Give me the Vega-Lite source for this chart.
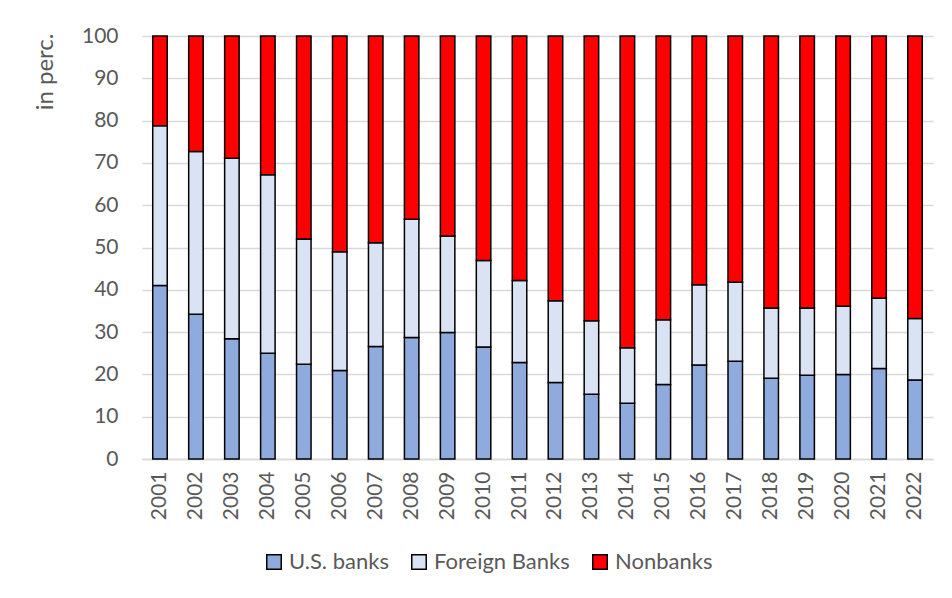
{
  "$schema": "https://vega.github.io/schema/vega-lite/v6.json",
  "width": 791,
  "height": 423,
  "autosize": "none",
  "padding": {"left": 142, "top": 36, "right": 19, "bottom": 139},
  "background": "white",
  "config": {
    "view": {"stroke": null},
    "font": "Lato",
    "axis": {"labelFont": "Lato", "titleFont": "Lato", "labelColor": "#595959", "titleColor": "#595959", "labelFontSize": 21, "titleFontSize": 24, "titleFontWeight": "normal"},
    "legend": {"labelFont": "Lato", "labelFontSize": 22, "labelColor": "#595959"}
  },
  "data": {
    "values": [
      {"year": "2001", "cat": "U.S. banks", "value": 41.0}, {"year": "2001", "cat": "Foreign Banks", "value": 37.8}, {"year": "2001", "cat": "Nonbanks", "value": 21.2},
      {"year": "2002", "cat": "U.S. banks", "value": 34.2}, {"year": "2002", "cat": "Foreign Banks", "value": 38.5}, {"year": "2002", "cat": "Nonbanks", "value": 27.3},
      {"year": "2003", "cat": "U.S. banks", "value": 28.4}, {"year": "2003", "cat": "Foreign Banks", "value": 42.7}, {"year": "2003", "cat": "Nonbanks", "value": 28.9},
      {"year": "2004", "cat": "U.S. banks", "value": 25.0}, {"year": "2004", "cat": "Foreign Banks", "value": 42.2}, {"year": "2004", "cat": "Nonbanks", "value": 32.8},
      {"year": "2005", "cat": "U.S. banks", "value": 22.4}, {"year": "2005", "cat": "Foreign Banks", "value": 29.6}, {"year": "2005", "cat": "Nonbanks", "value": 48.0},
      {"year": "2006", "cat": "U.S. banks", "value": 20.9}, {"year": "2006", "cat": "Foreign Banks", "value": 28.1}, {"year": "2006", "cat": "Nonbanks", "value": 51.0},
      {"year": "2007", "cat": "U.S. banks", "value": 26.6}, {"year": "2007", "cat": "Foreign Banks", "value": 24.5}, {"year": "2007", "cat": "Nonbanks", "value": 48.9},
      {"year": "2008", "cat": "U.S. banks", "value": 28.7}, {"year": "2008", "cat": "Foreign Banks", "value": 28.0}, {"year": "2008", "cat": "Nonbanks", "value": 43.3},
      {"year": "2009", "cat": "U.S. banks", "value": 29.9}, {"year": "2009", "cat": "Foreign Banks", "value": 22.8}, {"year": "2009", "cat": "Nonbanks", "value": 47.3},
      {"year": "2010", "cat": "U.S. banks", "value": 26.5}, {"year": "2010", "cat": "Foreign Banks", "value": 20.4}, {"year": "2010", "cat": "Nonbanks", "value": 53.1},
      {"year": "2011", "cat": "U.S. banks", "value": 22.8}, {"year": "2011", "cat": "Foreign Banks", "value": 19.4}, {"year": "2011", "cat": "Nonbanks", "value": 57.8},
      {"year": "2012", "cat": "U.S. banks", "value": 18.1}, {"year": "2012", "cat": "Foreign Banks", "value": 19.3}, {"year": "2012", "cat": "Nonbanks", "value": 62.6},
      {"year": "2013", "cat": "U.S. banks", "value": 15.3}, {"year": "2013", "cat": "Foreign Banks", "value": 17.4}, {"year": "2013", "cat": "Nonbanks", "value": 67.3},
      {"year": "2014", "cat": "U.S. banks", "value": 13.2}, {"year": "2014", "cat": "Foreign Banks", "value": 13.1}, {"year": "2014", "cat": "Nonbanks", "value": 73.7},
      {"year": "2015", "cat": "U.S. banks", "value": 17.6}, {"year": "2015", "cat": "Foreign Banks", "value": 15.3}, {"year": "2015", "cat": "Nonbanks", "value": 67.1},
      {"year": "2016", "cat": "U.S. banks", "value": 22.2}, {"year": "2016", "cat": "Foreign Banks", "value": 19.0}, {"year": "2016", "cat": "Nonbanks", "value": 58.8},
      {"year": "2017", "cat": "U.S. banks", "value": 23.1}, {"year": "2017", "cat": "Foreign Banks", "value": 18.7}, {"year": "2017", "cat": "Nonbanks", "value": 58.2},
      {"year": "2018", "cat": "U.S. banks", "value": 19.1}, {"year": "2018", "cat": "Foreign Banks", "value": 16.6}, {"year": "2018", "cat": "Nonbanks", "value": 64.3},
      {"year": "2019", "cat": "U.S. banks", "value": 19.8}, {"year": "2019", "cat": "Foreign Banks", "value": 15.9}, {"year": "2019", "cat": "Nonbanks", "value": 64.3},
      {"year": "2020", "cat": "U.S. banks", "value": 20.0}, {"year": "2020", "cat": "Foreign Banks", "value": 16.1}, {"year": "2020", "cat": "Nonbanks", "value": 63.9},
      {"year": "2021", "cat": "U.S. banks", "value": 21.4}, {"year": "2021", "cat": "Foreign Banks", "value": 16.6}, {"year": "2021", "cat": "Nonbanks", "value": 62.0},
      {"year": "2022", "cat": "U.S. banks", "value": 18.7}, {"year": "2022", "cat": "Foreign Banks", "value": 14.5}, {"year": "2022", "cat": "Nonbanks", "value": 66.8}
    ]
  },
  "transform": [
    {"calculate": "indexof(['U.S. banks', 'Foreign Banks', 'Nonbanks'], datum.cat)", "as": "stackorder"}
  ],
  "mark": {"type": "bar", "size": 14.5, "stroke": "black", "strokeWidth": 1.5},
  "encoding": {
    "x": {
      "field": "year", "type": "ordinal",
      "axis": {"title": null, "labelAngle": -90, "labelPadding": 12, "ticks": false, "domainColor": "#D9D9D9", "domainWidth": 1.5, "grid": false}
    },
    "y": {
      "field": "value", "type": "quantitative", "stack": "zero",
      "scale": {"domain": [0, 100], "nice": false},
      "axis": {
        "title": "in perc.", "values": [0,10,20,30,40,50,60,70,80,90,100],
        "domain": false, "ticks": false, "labelPadding": 24,
        "gridColor": "#D9D9D9", "gridWidth": 1.5,
        "titleFontSize": 24, "titleFont": "Lato", "titleColor": "#595959", "titleFontWeight": "normal",
        "titleAngle": -90, "titleX": -90, "titleY": -3, "titleAlign": "right", "titleBaseline": "alphabetic"
      }
    },
    "order": {"field": "stackorder", "type": "quantitative", "sort": "ascending"},
    "color": {
      "field": "cat", "type": "nominal",
      "sort": ["U.S. banks", "Foreign Banks", "Nonbanks"],
      "scale": {"domain": ["U.S. banks", "Foreign Banks", "Nonbanks"], "range": ["#8FAADC", "#DAE3F3", "#FF0000"]},
      "legend": {
        "title": null, "orient": "none", "direction": "horizontal",
        "legendX": 121, "legendY": 515,
        "symbolType": "square", "symbolSize": 210, "symbolStrokeColor": "black", "symbolStrokeWidth": 1.5,
        "symbolOpacity": 1, "labelOffset": 4, "columnPadding": 19
      }
    }
  }
}
